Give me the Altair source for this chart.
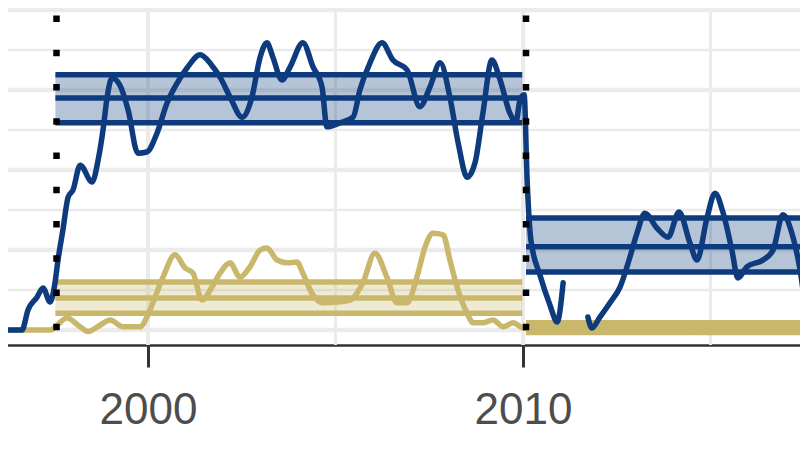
import altair as alt
import pandas as pd

# ---- series values (year, value) ----
blue_a_year = [1996.05, 1996.64, 1996.80, 1997.04, 1997.20, 1997.39, 1997.52, 1997.60, 1997.73,
               1997.87, 1998.00, 1998.19, 1998.51, 1998.67, 1998.80, 1998.91, 1999.04, 1999.25,
               1999.47, 1999.73, 1999.97, 2000.24, 2000.51, 2000.72, 2001.04, 2001.39, 2001.65,
               2001.73, 2001.92, 2002.19, 2002.51, 2002.77, 2002.99, 2003.17, 2003.33, 2003.57,
               2003.79, 2004.13, 2004.40, 2004.64, 2004.77, 2005.12, 2005.47, 2005.65, 2005.92,
               2006.24, 2006.53, 2006.91, 2007.25, 2007.52, 2007.79, 2008.05, 2008.27, 2008.51,
               2008.72, 2008.93, 2009.17, 2009.39, 2009.65, 2009.81, 2009.92, 2010.03, 2010.11,
               2010.21, 2010.45, 2010.72, 2010.91, 2011.07]
blue_a_val = [0.0, 0.0, 0.25, 0.41, 0.525, 0.35, 0.59, 0.875, 1.25,
              1.66, 1.75, 2.06, 1.85, 2.125, 2.5, 2.91, 3.15, 3.06,
              2.75, 2.21, 2.225, 2.46, 2.84, 3.04, 3.275, 3.44, 3.34,
              3.29, 3.16, 2.91, 2.66, 2.91, 3.41, 3.59, 3.41, 3.125,
              3.29, 3.59, 3.29, 3.04, 2.54, 2.59, 2.66, 3.0, 3.34,
              3.59, 3.375, 3.25, 2.79, 3.04, 3.34, 2.91, 2.34, 1.91,
              2.09, 2.71, 3.375, 3.125, 2.71, 2.6, 2.875, 2.94, 1.875,
              1.125, 0.69, 0.31, 0.1, 0.59]
blue_b_year = [2011.73, 2011.84, 2012.05, 2012.32, 2012.59, 2012.85, 2013.04, 2013.25, 2013.57,
               2013.87, 2014.16, 2014.45, 2014.64, 2014.91, 2015.12, 2015.33, 2015.57, 2015.73,
               2015.97, 2016.40, 2016.67, 2016.93, 2017.17, 2017.39, 2017.52, 2017.65]
blue_b_val = [0.1625, 0.025, 0.16, 0.34, 0.54, 0.91, 1.21, 1.46, 1.275,
              1.16, 1.475, 1.09, 0.875, 1.41, 1.71, 1.475, 1.0, 0.65,
              0.79, 0.875, 1.0, 1.44, 1.21, 0.75, 0.375, 0.31]
gold_year = [1996.05, 1996.85, 1997.39, 1997.84, 1998.19, 1998.40, 1998.72, 1998.99, 1999.33,
             1999.79, 1999.97, 2000.13, 2000.40, 2000.72, 2000.99, 2001.20, 2001.44, 2001.71,
             2001.92, 2002.19, 2002.45, 2002.72, 2002.99, 2003.17, 2003.44, 2003.71, 2003.97,
             2004.13, 2004.37, 2004.67, 2005.04, 2005.39, 2005.73, 2006.05, 2006.37, 2006.64,
             2006.91, 2007.17, 2007.39, 2007.60, 2007.87, 2008.05, 2008.24, 2008.51, 2008.67,
             2008.93, 2009.20, 2009.47, 2009.73, 2010.00, 2010.45, 2010.99, 2012.05, 2013.39,
             2014.72, 2016.05, 2017.60]
gold_val = [0.0, 0.0, 0.0, 0.15, 0.04, -0.02, 0.06, 0.125, 0.04,
            0.04, 0.16, 0.34, 0.66, 0.94, 0.775, 0.71, 0.375, 0.54,
            0.71, 0.84, 0.66, 0.79, 1.0, 1.025, 0.875, 0.84, 0.85,
            0.71, 0.46, 0.34, 0.35, 0.375, 0.59, 0.96, 0.66, 0.34,
            0.34, 0.66, 1.04, 1.21, 1.19, 0.875, 0.54, 0.21, 0.09,
            0.09, 0.125, 0.04, 0.09, 0.025, 0.0, 0.04, 0.05, 0.04,
            0.05, 0.04, 0.05]

# ---- segment means with intervals ----
band_series = ["blue", "blue", "gold", "gold"]
band_start = [1997.53, 2010.08, 1997.53, 2010.08]
band_end = [2009.98, 2017.70, 2009.98, 2017.70]
band_lower = [2.59, 0.725, 0.21, -0.03]
band_mid = [2.90, 1.04, 0.40, 0.03]
band_upper = [3.19, 1.40, 0.60, 0.09]

change_years = [1997.56, 2010.08]
x_ticks = [2000, 2010]
grid_major_y = [0, 1, 2, 3, 4]
grid_minor_y = [0.5, 1.5, 2.5, 3.5]
grid_major_x = [2000, 2010]
grid_minor_x = [2005, 2015]

BLUE = "#0d3b7d"
GOLD = "#c9b86c"

blue_df = pd.DataFrame({
    "year": blue_a_year + blue_b_year,
    "val": blue_a_val + blue_b_val,
    "seg": ["a"] * len(blue_a_year) + ["b"] * len(blue_b_year),
})
gold_df = pd.DataFrame({"year": gold_year, "val": gold_val})
band_df = pd.DataFrame({"series": band_series, "start": band_start, "end": band_end,
                        "lower": band_lower, "mid": band_mid, "upper": band_upper})

xs = alt.Scale(domain=[1996.053, 2017.6], nice=False, zero=False)
ys = alt.Scale(domain=[-0.1875, 4.125], nice=False, zero=False)

x_axis = alt.Axis(values=x_ticks, format="d", grid=False, domain=True, domainColor="#333333",
                  domainWidth=2.5, tickColor="#333333", tickWidth=3, tickSize=22, ticks=True,
                  labels=True, labelFontSize=44, labelColor="#4d4d4d",
                  labelFont="Liberation Sans", labelPadding=21, title=None, labelFlush=False)


def X(field):
    return alt.X(field, scale=xs, axis=x_axis)


def Y(field):
    return alt.Y(field, scale=ys, axis=None)


gx_major = alt.Chart(pd.DataFrame({"x": grid_major_x})).mark_rule(
    color="#ebebeb", strokeWidth=4).encode(x=X("x:Q"))
gx_minor = alt.Chart(pd.DataFrame({"x": grid_minor_x})).mark_rule(
    color="#ebebeb", strokeWidth=3).encode(x=X("x:Q"))
gy_major = alt.Chart(pd.DataFrame({"y": grid_major_y})).mark_rule(
    color="#ebebeb", strokeWidth=4.5).encode(y=Y("y:Q"))
gy_minor = alt.Chart(pd.DataFrame({"y": grid_minor_y})).mark_rule(
    color="#ebebeb", strokeWidth=2.5).encode(y=Y("y:Q"))


def band_fill(series, color):
    return alt.Chart(band_df).transform_filter(alt.datum.series == series).mark_rect(
        color=color, opacity=0.3, clip=True).encode(
        x=X("start:Q"), x2="end:Q", y=Y("lower:Q"), y2="upper:Q")


def band_lines(series, color):
    return alt.Chart(band_df).transform_filter(alt.datum.series == series).transform_fold(
        ["lower", "mid", "upper"], as_=["k", "v"]).mark_rule(
        color=color, strokeWidth=5.5, clip=True).encode(
        x=X("start:Q"), x2="end:Q", y=Y("v:Q"))


gold_line = alt.Chart(gold_df).mark_line(
    color=GOLD, strokeWidth=5.5, strokeJoin="round", strokeCap="round", clip=True,
    interpolate="monotone").encode(
    x=X("year:Q"), y=Y("val:Q"), order="year:Q")
blue_line = alt.Chart(blue_df).mark_line(
    color=BLUE, strokeWidth=5.5, strokeJoin="round", strokeCap="round", clip=True,
    interpolate="monotone").encode(
    x=X("year:Q"), y=Y("val:Q"), detail="seg:N", order="year:Q")

vlines = alt.Chart(pd.DataFrame({"x": change_years})).mark_rule(
    color="black", strokeWidth=6.5, strokeDash=[6.5, 27.75], strokeDashOffset=18.85,
    strokeCap="butt").encode(
    x=X("x:Q"), y=alt.value(0), y2=alt.value(345))

chart = alt.layer(
    gy_minor, gy_major, gx_minor, gx_major,
    band_fill("gold", GOLD), band_fill("blue", BLUE),
    band_lines("gold", GOLD), gold_line,
    band_lines("blue", BLUE), blue_line,
    vlines,
).properties(
    width=808, height=345,
    autosize=alt.AutoSizeParams(type="none"),
    padding={"left": -8, "top": -8, "right": -8, "bottom": 102},
).configure_view(strokeWidth=0).configure(background="white")

chart.save("out.html", embed_options={"renderer": "svg", "actions": False})
